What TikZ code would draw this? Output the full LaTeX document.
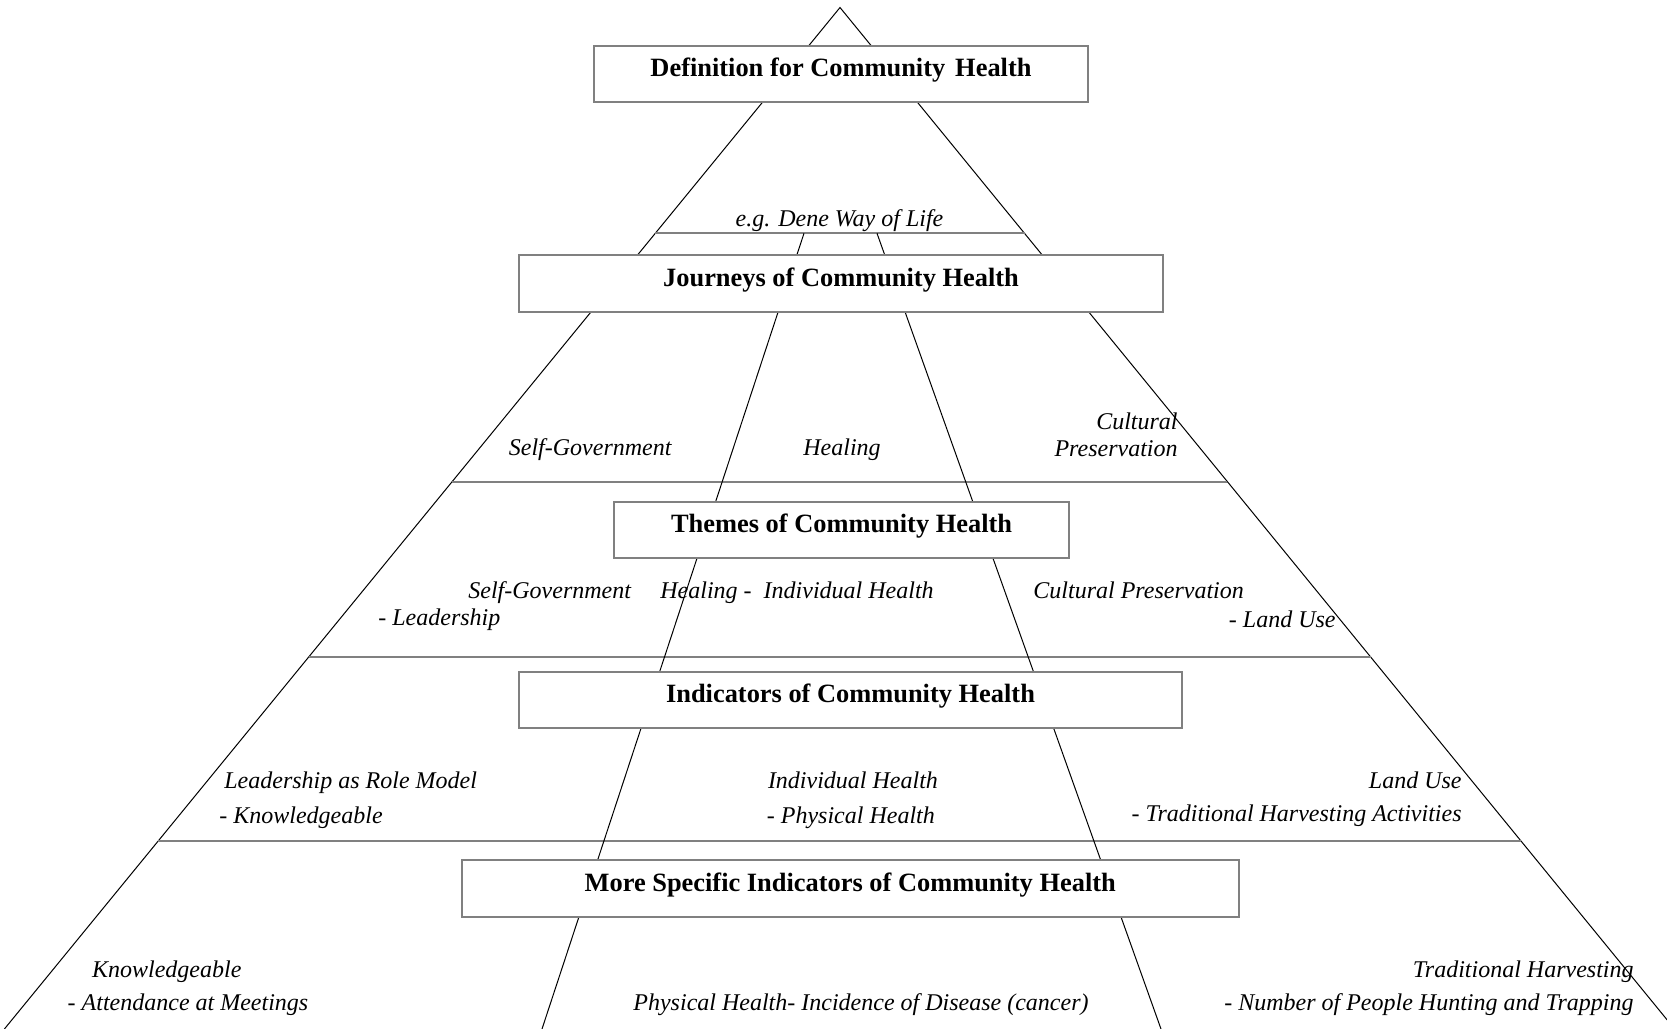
\documentclass[tikz,border=0pt]{standalone}
\usepackage{fontspec}
\setmainfont{Liberation Serif}
\usetikzlibrary{calc}

\newcommand{\boxfont}{\bfseries\fontsize{13.2}{15}\selectfont}
\newcommand{\lblfont}{\itshape\fontsize{12}{14}\selectfont}

\begin{document}
\begin{tikzpicture}[x=0.5pt,y=-0.5pt,
  side/.style={black,line width=0.5pt},
  rung/.style={gray,line width=1pt},
  levelbox/.style={draw=gray,line width=1pt,fill=white,inner xsep=0pt,inner ysep=0pt,
    text height=15.5pt,text depth=12.8pt,font=\boxfont,anchor=base},
  lbl/.style={font=\lblfont,inner sep=0pt}]
  \useasboundingbox (0,0) rectangle (1667,1029);
  \clip (0,0) rectangle (1667,1029);
  \coordinate (apex) at (840,7.5);
  \coordinate (bl) at (4.4,1029);
  \coordinate (br) at (1674.6,1029);
  \draw[side] (bl)--(apex)--(br); %pyramid
  \foreach \t/\n in {0.2211/a,0.4642/b,0.6358/c,0.816/d}{
    \coordinate (L\n) at ($(apex)!\t!(bl)$);
    \coordinate (R\n) at ($(apex)!\t!(br)$);
    \draw[rung] (L\n)--(R\n);
  }
  \coordinate (ml) at (804,233.3);
  \coordinate (mr) at (877,233.3);
  \coordinate (ml2) at (542,1029);
  \coordinate (mr2) at (1161,1029);
  \draw[side] (ml)--(ml2);
  \draw[side] (mr)--(mr2);
  % boxes
  \node[levelbox,minimum width=247pt] (defn) at (841,76.7) {Definition for Community\hspace{5pt}Health};
  \node[levelbox,minimum width=322pt] (journ) at (841,286) {Journeys of Community Health};
  \node[levelbox,minimum width=227.3pt] (theme) at (841.6,532.7) {Themes of Community Health};
  \node[levelbox,minimum width=331.5pt] (indic) at (850.5,702.7) {Indicators of Community Health};
  \node[levelbox,minimum width=388.3pt] (spec) at (850.25,891) {More Specific Indicators of Community Health};
  % labels
  \node[lbl,anchor=base] (dene) at (839.5,226) {e.g. Dene Way of Life};
  \node[lbl,anchor=base west] (selfgovA) at (508.5,455) {Self-Government};
  \node[lbl,anchor=base west] (healA) at (803,455) {Healing};
  \node[lbl,anchor=base east] (cultA) at (1178,429) {Cultural};
  \node[lbl,anchor=base east] (presA) at (1178,456) {Preservation};
  \node[lbl,anchor=base west] (selfgovB) at (468,598.7) {Self-Government};
  \node[lbl,anchor=base west] (leadB) at (378,625.3) {- Leadership};
  \node[lbl,anchor=base west] (healB) at (660,598.7) {Healing -\hspace{6pt}Individual Health};
  \node[lbl,anchor=base west] (cultB) at (1033,598.7) {Cultural Preservation};
  \node[lbl,anchor=base east] (landB) at (1336,627) {- Land Use};
  \node[lbl,anchor=base west] (roleC) at (224,788.7) {Leadership as Role Model};
  \node[lbl,anchor=base west] (knowC) at (219,823) {- Knowledgeable};
  \node[lbl,anchor=base west] (indivC) at (767.6,788.7) {Individual Health};
  \node[lbl,anchor=base west] (physC) at (766.5,823) {- Physical Health};
  \node[lbl,anchor=base east] (landC) at (1462,788.7) {Land Use};
  \node[lbl,anchor=base east] (tradC) at (1462,821) {- Traditional Harvesting Activities};
  \node[lbl,anchor=base west] (knowD) at (91.7,977.5) {Knowledgeable};
  \node[lbl,anchor=base west] (attendD) at (67.3,1010.8) {- Attendance at Meetings};
  \node[lbl,anchor=base] (physD) at (861,1010.8) {Physical Health- Incidence of Disease (cancer)};
  \node[lbl,anchor=base east] (tradD) at (1634,977.5) {Traditional Harvesting};
  \node[lbl,anchor=base east] (huntD) at (1634,1010.8) {- Number of People Hunting and Trapping};
\end{tikzpicture}
\end{document}
